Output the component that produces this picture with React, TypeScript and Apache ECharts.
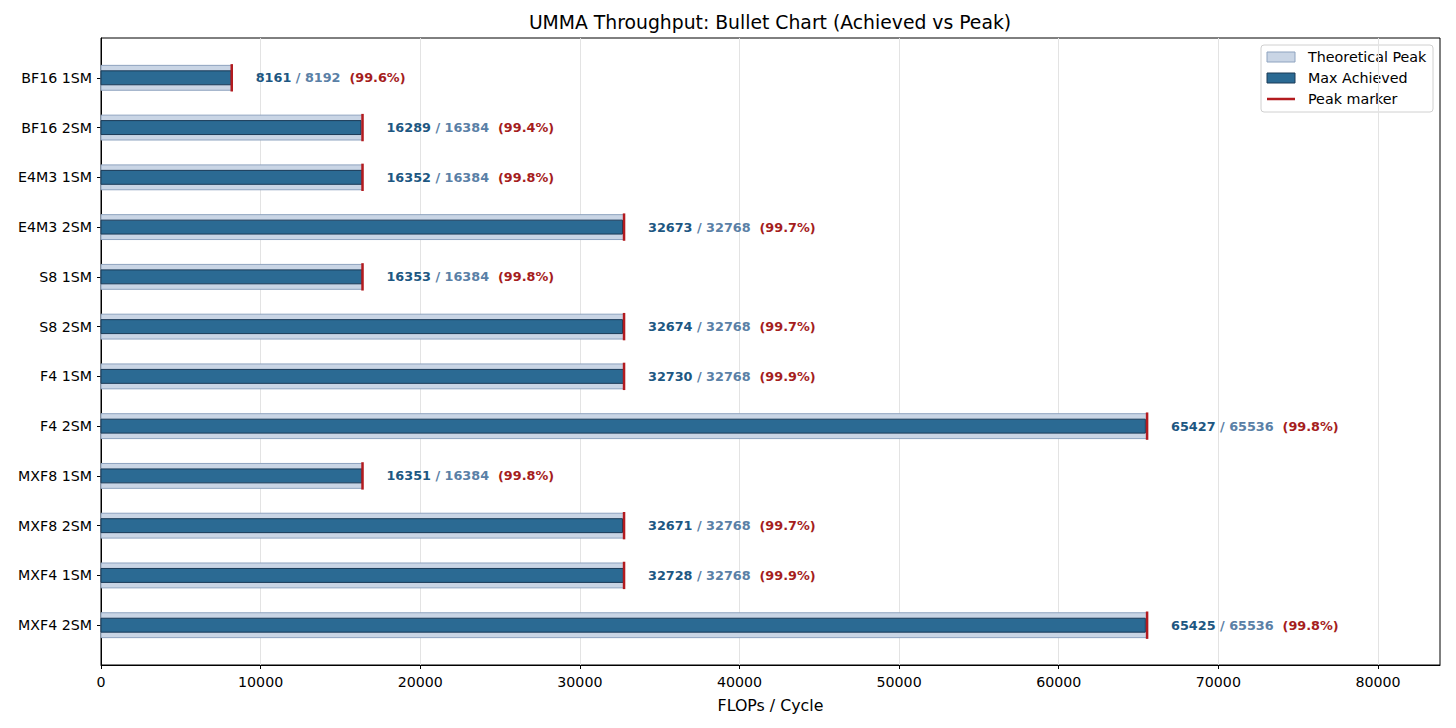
import React, { useEffect, useRef } from "react";
import * as echarts from "echarts";

const categories = [
  "BF16 1SM", "BF16 2SM", "E4M3 1SM", "E4M3 2SM", "S8 1SM", "S8 2SM",
  "F4 1SM", "F4 2SM", "MXF8 1SM", "MXF8 2SM", "MXF4 1SM", "MXF4 2SM",
];
const achieved = [8161, 16289, 16352, 32673, 16353, 32674, 32730, 65427, 16351, 32671, 32728, 65425];
const peak = [8192, 16384, 16384, 32768, 16384, 32768, 32768, 65536, 16384, 32768, 32768, 65536];
const pct = [99.6, 99.4, 99.8, 99.7, 99.8, 99.7, 99.9, 99.8, 99.8, 99.7, 99.9, 99.8];
const xTicks = [0, 10000, 20000, 30000, 40000, 50000, 60000, 70000, 80000];

const FONT = "DejaVu Sans";
const TICK_FS = 14.2;
const LBL_FS = 12.8;

export default function App() {
  const ref = useRef<HTMLDivElement>(null);
  useEffect(() => {
    document.body.style.margin = "0";
    const chart = echarts.init(ref.current!, null, { renderer: "svg" });
    const idx = categories.map((_, i) => i);

    const rectBetween = (api: any, x0: number, x1: number, y: number, h: number) => {
      const p0 = api.coord([x0, y - h / 2]);
      const p1 = api.coord([x1, y + h / 2]);
      return {
        x: Math.min(p0[0], p1[0]),
        y: Math.min(p0[1], p1[1]),
        width: Math.abs(p1[0] - p0[0]),
        height: Math.abs(p1[1] - p0[1]),
      };
    };

    chart.setOption({
      animation: false,
      textStyle: { fontFamily: FONT },
      grid: { left: 101, right: 16, top: 38, bottom: 63, show: true, borderColor: "#000", borderWidth: 1, backgroundColor: "transparent" },
      xAxis: {
        type: "value",
        min: 0,
        max: 83886,
        interval: 10000,
        name: "FLOPs / Cycle",
        nameLocation: "middle",
        nameGap: 32,
        nameTextStyle: { fontFamily: FONT, fontSize: 15.8, color: "#000" },
        axisLine: { show: true, onZero: false, lineStyle: { color: "#000", width: 1 } },
        axisTick: { show: true, length: 4, lineStyle: { color: "#000" }, customValues: xTicks },
        axisLabel: { fontFamily: FONT, fontSize: TICK_FS, color: "#000", margin: 10, customValues: xTicks, formatter: (v: number) => String(v) },
        splitLine: { show: true, lineStyle: { color: "#e3e3e3", width: 1 } },
      },
      yAxis: {
        type: "value",
        min: -0.8,
        max: 11.8,
        inverse: true,
        axisLine: { show: true, onZero: false, lineStyle: { color: "#000", width: 1 } },
        axisTick: { show: true, length: 4, lineStyle: { color: "#000" }, customValues: idx },
        axisLabel: {
          fontFamily: FONT, fontSize: TICK_FS, color: "#000", margin: 9,
          customValues: idx,
          formatter: (v: number) => categories[Math.round(v)] ?? "",
        },
        splitLine: { show: false },
      },
      series: [
        {
          type: "custom",
          name: "Theoretical Peak",
          z: 2,
          data: idx.map((i) => [peak[i], i]),
          renderItem: (params: any, api: any) => {
            const v = api.value(0), y = api.value(1);
            return {
              type: "rect",
              shape: rectBetween(api, 0, v, y, 0.5),
              style: { fill: "#c9d5e5", stroke: "#8ea3bf", lineWidth: 1 },
            };
          },
        },
        {
          type: "custom",
          name: "Max Achieved",
          z: 3,
          data: idx.map((i) => [achieved[i], i]),
          renderItem: (params: any, api: any) => {
            const v = api.value(0), y = api.value(1);
            return {
              type: "rect",
              shape: rectBetween(api, 0, v, y, 0.28),
              style: { fill: "#2b6a93", stroke: "#1a3a57", lineWidth: 1 },
            };
          },
        },
        {
          type: "custom",
          name: "Peak marker",
          z: 4,
          data: idx.map((i) => [peak[i], i]),
          renderItem: (params: any, api: any) => {
            const v = api.value(0), y = api.value(1);
            const p0 = api.coord([v, y - 0.275]);
            const p1 = api.coord([v, y + 0.275]);
            return {
              type: "line",
              shape: { x1: p0[0], y1: p0[1], x2: p1[0], y2: p1[1] },
              style: { stroke: "#b31b1f", lineWidth: 2.5 },
            };
          },
        },
        {
          type: "custom",
          name: "labels",
          z: 5,
          data: idx.map((i) => [peak[i], i]),
          renderItem: (params: any, api: any) => {
            const i = params.dataIndex;
            const p = api.coord([peak[i] + 1500, i]);
            return {
              type: "text",
              x: p[0],
              y: p[1],
              style: {
                text: `{a|${achieved[i]}} {b|/ ${peak[i]}}  {c|(${pct[i].toFixed(1)}%)}`,
                align: "left",
                verticalAlign: "middle",
                font: `bold ${LBL_FS}px ${FONT}`,
                rich: {
                  a: { fontFamily: FONT, fontSize: LBL_FS, fontWeight: "bold", fill: "#1d5782" },
                  b: { fontFamily: FONT, fontSize: LBL_FS, fontWeight: "bold", fill: "#5a80a6" },
                  c: { fontFamily: FONT, fontSize: LBL_FS, fontWeight: "bold", fill: "#a51d1d" },
                },
              },
            };
          },
        },
      ],
      graphic: [
        {
          type: "text",
          x: 770,
          y: 22,
          style: {
            text: "UMMA Throughput: Bullet Chart (Achieved vs Peak)",
            font: `18.8px ${FONT}`,
            fill: "#000",
            align: "center",
            verticalAlign: "middle",
          },
        },
        {
          type: "group",
          x: 1261,
          y: 45,
          children: [
            { type: "rect", shape: { x: 0, y: 0, width: 172, height: 67, r: 3 }, style: { fill: "rgba(255,255,255,0.85)", stroke: "#d0d0d0", lineWidth: 1 } },
            { type: "rect", shape: { x: 6, y: 7, width: 28, height: 10 }, style: { fill: "#c9d5e5", stroke: "#8ea3bf", lineWidth: 1 } },
            { type: "text", x: 47, y: 12, style: { text: "Theoretical Peak", font: `14.3px ${FONT}`, fill: "#000", verticalAlign: "middle" } },
            { type: "rect", shape: { x: 6, y: 28, width: 28, height: 10 }, style: { fill: "#2b6a93", stroke: "#1a3a57", lineWidth: 1 } },
            { type: "text", x: 47, y: 33, style: { text: "Max Achieved", font: `14.3px ${FONT}`, fill: "#000", verticalAlign: "middle" } },
            { type: "line", shape: { x1: 6, y1: 54, x2: 34, y2: 54 }, style: { stroke: "#b31b1f", lineWidth: 2.5 } },
            { type: "text", x: 47, y: 54, style: { text: "Peak marker", font: `14.3px ${FONT}`, fill: "#000", verticalAlign: "middle" } },
          ],
        },
      ],
    });
    return () => chart.dispose();
  }, []);
  return <div ref={ref} style={{ width: 1456, height: 728 }} />;
}
